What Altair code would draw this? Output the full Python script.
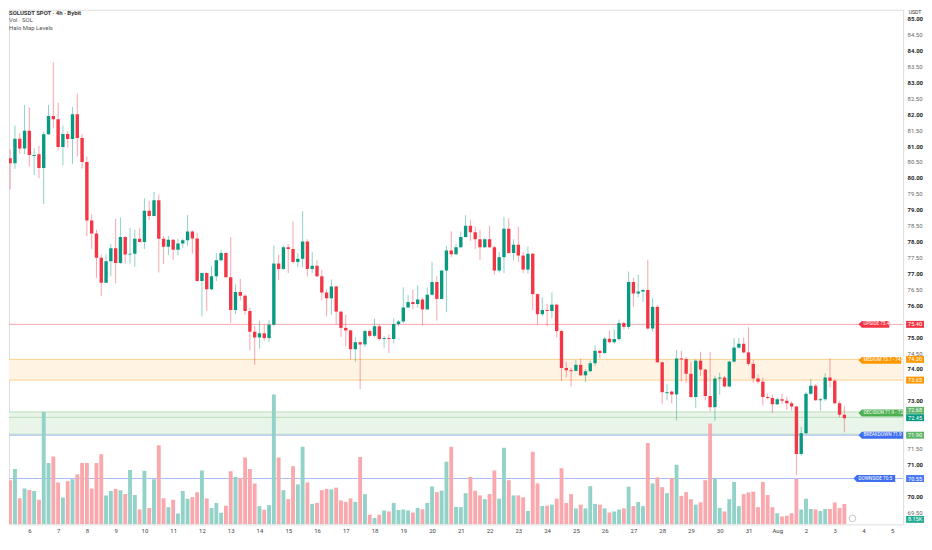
import json
import altair as alt
import pandas as pd

# ---------------- data ----------------
opens = [80.46, 80.62, 80.46, 81.23, 80.92, 81.48, 80.72, 80.74, 80.31, 81.37,
         81.94, 81.84, 80.97, 81.38, 81.22, 82.00, 81.25, 80.50, 78.66, 78.25,
         77.49, 76.71, 77.38, 77.79, 77.33, 78.14, 77.59, 77.62, 78.09, 77.99,
         78.97, 78.80, 79.30, 78.09, 77.84, 78.06, 77.74, 77.94, 78.04, 78.32,
         78.10, 76.76, 77.01, 76.50, 76.91, 77.41, 77.64, 76.88, 75.85, 76.42,
         76.30, 75.82, 75.17, 74.99, 75.12, 74.97, 75.39, 77.31, 77.14, 77.82,
         77.77, 77.36, 77.46, 78.00, 77.14, 77.24, 76.91, 76.40, 76.22, 76.59,
         75.80, 75.29, 75.21, 74.62, 74.84, 74.77, 75.19, 75.04, 75.34, 74.94,
         74.97, 74.94, 75.41, 75.49, 75.93, 76.10, 76.04, 76.18, 75.87, 76.33,
         76.73, 76.20, 77.09, 77.72, 77.60, 77.82, 78.14, 78.50, 78.29, 78.07,
         77.82, 78.07, 77.82, 77.09, 77.51, 78.40, 77.64, 77.90, 77.56, 77.12,
         77.62, 76.35, 75.72, 75.85, 75.82, 76.02, 75.19, 74.03, 73.96, 73.94,
         74.13, 73.80, 73.93, 74.18, 74.57, 74.50, 74.95, 74.84, 74.94, 75.44,
         75.32, 76.73, 76.37, 76.43, 76.48, 75.27, 75.95, 74.21, 73.27, 73.29,
         73.20, 74.33, 74.31, 73.85, 73.12, 74.26, 73.98, 73.15, 72.80, 73.70,
         73.73, 73.45, 74.23, 74.67, 74.79, 74.52, 74.16, 73.70, 73.60, 73.12,
         73.09, 72.89, 73.05, 73.00, 72.92, 72.82, 71.33, 71.98, 73.22, 73.47,
         73.02, 73.05, 73.73, 73.63, 72.92, 72.56]
highs = [80.70, 80.90, 81.64, 81.40, 82.29, 82.21, 80.93, 81.00, 81.45, 82.29,
         83.63, 82.36, 81.64, 81.47, 82.23, 82.65, 81.37, 80.67, 78.86, 78.37,
         77.60, 77.60, 77.92, 78.71, 78.76, 78.17, 78.43, 78.37, 78.42, 79.36,
         79.28, 79.56, 79.48, 78.17, 78.17, 78.07, 78.09, 78.10, 78.83, 78.35,
         78.27, 77.03, 77.03, 77.23, 77.64, 77.74, 77.66, 78.14, 76.66, 76.83,
         76.35, 75.92, 75.34, 75.51, 75.39, 75.54, 77.87, 77.59, 77.87, 77.92,
         78.63, 77.64, 78.95, 78.07, 77.67, 77.41, 77.11, 76.50, 76.81, 76.61,
         75.82, 75.70, 75.24, 74.99, 74.86, 75.24, 75.24, 75.58, 75.41, 75.04,
         75.09, 75.59, 75.54, 76.56, 76.32, 76.48, 76.63, 76.25, 76.56, 77.36,
         76.91, 77.11, 77.87, 78.32, 77.92, 78.32, 78.83, 78.68, 78.47, 78.37,
         78.10, 78.50, 77.87, 77.67, 78.78, 78.73, 78.07, 78.47, 77.67, 77.85,
         77.65, 76.37, 76.25, 76.05, 76.40, 76.05, 75.24, 74.23, 74.04, 74.28,
         74.33, 74.00, 74.26, 74.74, 74.61, 75.01, 75.21, 75.24, 75.55, 75.48,
         77.06, 76.86, 76.96, 76.52, 77.43, 76.22, 76.00, 74.23, 73.53, 73.32,
         74.59, 74.57, 74.38, 74.23, 74.30, 74.54, 74.00, 74.54, 73.78, 73.88,
         73.78, 74.26, 74.97, 74.97, 74.99, 75.31, 74.28, 73.83, 73.73, 73.22,
         73.19, 73.09, 73.22, 73.12, 72.99, 72.85, 72.18, 73.27, 73.68, 73.52,
         73.09, 73.86, 74.33, 73.68, 72.99, 72.82]
lows = [80.30, 79.64, 80.28, 80.75, 80.75, 80.36, 80.09, 79.99, 79.18, 81.35,
        81.56, 80.87, 80.39, 80.95, 80.44, 80.67, 80.29, 78.17, 77.77, 76.86,
        76.28, 76.70, 76.91, 76.69, 77.30, 77.31, 77.31, 77.21, 77.97, 77.77,
        78.68, 78.79, 77.03, 77.29, 77.57, 77.43, 77.57, 77.80, 77.87, 77.62,
        76.74, 75.65, 75.83, 76.48, 76.76, 77.38, 76.86, 75.44, 75.72, 76.15,
        75.70, 74.59, 74.13, 74.64, 74.89, 74.84, 75.34, 76.79, 77.11, 77.01,
        77.31, 77.19, 77.19, 76.91, 77.01, 76.89, 76.15, 75.65, 75.70, 75.39,
        75.01, 74.71, 74.30, 74.23, 73.37, 74.69, 75.00, 74.99, 74.89, 74.67,
        74.50, 74.81, 75.34, 75.44, 75.92, 75.88, 75.92, 75.36, 75.86, 76.30,
        75.52, 76.18, 75.78, 77.51, 77.59, 77.80, 78.12, 78.02, 77.77, 77.41,
        77.80, 77.80, 76.96, 77.03, 77.01, 77.62, 77.41, 77.36, 77.01, 77.00,
        75.85, 75.39, 75.65, 75.34, 75.60, 74.99, 73.63, 73.73, 73.45, 73.93,
        73.78, 73.58, 73.90, 74.10, 74.33, 74.48, 74.81, 74.79, 74.89, 75.24,
        75.24, 75.95, 76.25, 76.10, 75.24, 75.17, 74.18, 72.89, 73.02, 72.92,
        72.38, 73.60, 73.56, 73.09, 72.77, 73.78, 73.02, 72.67, 72.38, 73.19,
        73.42, 73.42, 74.20, 74.64, 74.49, 74.10, 73.56, 73.53, 72.85, 73.05,
        72.62, 72.87, 72.89, 72.72, 72.69, 70.67, 71.27, 71.95, 73.19, 73.00,
        72.69, 72.99, 73.42, 72.89, 72.48, 72.01]
closes = [80.60, 80.46, 81.23, 80.92, 81.48, 80.72, 80.74, 80.31, 81.37, 81.94,
          81.84, 80.97, 81.38, 81.22, 82.00, 81.25, 80.50, 78.66, 78.25, 77.49,
          76.71, 77.38, 77.79, 77.33, 78.14, 77.59, 77.62, 78.09, 77.99, 78.97,
          78.80, 79.30, 78.09, 77.84, 78.06, 77.74, 77.94, 78.04, 78.32, 78.10,
          76.76, 77.01, 76.50, 76.91, 77.41, 77.64, 76.88, 75.85, 76.42, 76.30,
          75.82, 75.17, 74.99, 75.12, 74.97, 75.39, 77.31, 77.14, 77.82, 77.77,
          77.36, 77.46, 78.00, 77.14, 77.24, 76.91, 76.40, 76.22, 76.59, 75.80,
          75.29, 75.21, 74.62, 74.84, 74.77, 75.19, 75.04, 75.34, 74.94, 74.97,
          74.94, 75.41, 75.49, 75.93, 76.10, 76.04, 76.18, 75.87, 76.33, 76.73,
          76.20, 77.09, 77.72, 77.60, 77.82, 78.14, 78.50, 78.29, 78.07, 77.82,
          78.07, 77.82, 77.09, 77.51, 78.40, 77.64, 77.90, 77.56, 77.12, 77.62,
          76.35, 75.72, 75.85, 75.82, 76.02, 75.19, 74.03, 73.96, 73.94, 74.13,
          73.80, 73.93, 74.18, 74.57, 74.50, 74.95, 74.84, 74.94, 75.44, 75.32,
          76.73, 76.37, 76.43, 76.48, 75.27, 75.95, 74.21, 73.27, 73.29, 73.20,
          74.33, 74.31, 73.85, 73.12, 74.26, 73.98, 73.15, 72.80, 73.70, 73.73,
          73.45, 74.23, 74.67, 74.79, 74.52, 74.16, 73.70, 73.60, 73.12, 73.09,
          72.89, 73.05, 73.00, 72.92, 72.82, 71.33, 71.98, 73.22, 73.47, 73.02,
          73.05, 73.73, 73.63, 72.92, 72.56, 72.45]
volumes_k = [7.9, 17.7, 22.2, 10.5, 14.4, 13.8, 13.4, 9.9, 45.0, 24.6,
             27.2, 16.8, 10.8, 17.3, 18.1, 20.0, 24.6, 24.6, 14.4, 24.6,
             28.1, 11.6, 13.4, 14.2, 13.7, 12.2, 21.8, 11.8, 6.0, 21.5,
             6.6, 18.1, 31.7, 10.5, 6.9, 9.9, 4.3, 13.4, 10.3, 10.9,
             12.9, 21.6, 10.4, 6.6, 8.6, 4.6, 7.5, 21.3, 19.0, 18.6,
             26.8, 22.2, 16.4, 7.3, 5.9, 7.7, 52.1, 26.8, 13.7, 10.1,
             23.3, 16.0, 31.1, 16.8, 8.2, 8.6, 13.7, 14.2, 14.0, 14.7,
             9.6, 9.0, 10.4, 9.0, 27.0, 12.1, 3.8, 2.5, 3.8, 5.5,
             5.1, 8.6, 5.7, 6.0, 5.5, 4.7, 6.6, 6.1, 8.6, 15.2,
             12.9, 13.5, 25.1, 31.1, 7.0, 6.9, 12.5, 19.0, 13.5, 11.6,
             10.1, 12.1, 21.6, 10.3, 30.7, 17.7, 11.6, 11.6, 10.8, 5.3,
             29.1, 16.4, 7.4, 7.5, 7.9, 10.3, 22.5, 8.6, 12.1, 6.4,
             7.9, 6.4, 15.3, 8.2, 7.9, 6.4, 4.7, 5.1, 6.0, 6.4,
             15.1, 7.3, 9.0, 7.3, 32.6, 16.4, 18.8, 14.9, 12.5, 18.6,
             23.9, 11.4, 12.9, 10.1, 7.9, 8.8, 17.7, 40.4, 18.3, 6.6,
             5.1, 10.1, 17.0, 7.3, 12.1, 12.8, 13.1, 6.9, 17.0, 11.8,
             6.9, 4.4, 3.1, 3.4, 4.4, 18.3, 6.0, 10.3, 6.2, 6.0,
             5.3, 6.2, 6.2, 8.8, 6.6, 8.15]

first_hour = 100          # Jul 5 04:00, hours counted from Jul 1 00:00
bar_hours = 4

day_tick_hours = [120, 144, 168, 192, 216, 240, 264, 288, 312, 336, 360, 384, 408,
                  432, 456, 480, 504, 528, 552, 576, 600, 624, 648, 672, 696, 720,
                  744, 768, 792, 816, 840]
day_tick_labels = ["6", "7", "8", "9", "10", "11", "12", "13", "14", "15", "16",
                   "17", "18", "19", "20", "21", "22", "23", "24", "25", "26", "27",
                   "28", "29", "30", "31", "Aug", "2", "3", "4", "5"]
price_ticks = [69.5, 70.0, 70.5, 71.0, 71.5, 72.0, 72.5, 73.0, 73.5, 74.0, 74.5,
               75.0, 75.5, 76.0, 76.5, 77.0, 77.5, 78.0, 78.5, 79.0, 79.5, 80.0,
               80.5, 81.0, 81.5, 82.0, 82.5, 83.0, 83.5, 84.0, 84.5, 85.0]
hidden_price_ticks = [75.5, 73.5, 72.5, 72.0, 70.5]   # covered by the level tags

band_names = ["MEDIUM", "DECISION"]
band_lows = [73.65, 71.95]
band_highs = [74.30, 72.65]
band_mid_line = 72.48

line_names = ["UPSIDE", "BREAKDOWN", "DOWNSIDE"]
line_prices = [75.40, 71.92, 70.56]

tag_texts = ["UPSIDE 75.4", "MEDIUM 73.7 - 74.3", "DECISION 71.9 - 72.7",
             "BREAKDOWN 71.9", "DOWNSIDE 70.5"]
tag_prices = [75.40, 74.27, 72.62, 71.92, 70.56]

axis_tag_texts = ["75.40", "74.30", "73.65", "72.68", "72.45", "71.90", "70.55"]
axis_tag_prices = [75.40, 74.30, 73.65, 72.70, 72.47, 71.92, 70.56]

header_lines = ["SOLUSDT SPOT · 4h · Bybit", "Vol · SOL", "Halo Map Levels"]
last_volume_label = "8.15K"

# ---------------- styling ----------------
W, H = 900, 518
FONT = "Roboto"
UP, DOWN = "#089981", "#F23645"
VOL_UP, VOL_DOWN = "#92D2C8", "#F9A9AD"
RED_LINE, BLUE_LINE = "#F7A6AD", "#A9B9F6"
ORANGE_FILL, ORANGE_EDGE, ORANGE_TAG = "#FFF3E3", "#FFD08E", "#FF9800"
GREEN_FILL, GREEN_EDGE, GREEN_TAG = "#EAF5EA", "#B9DDBB", "#4CAF50"
BLUE_TAG = "#3F6FF0"

n = len(opens)
candles = pd.DataFrame({
    "t": [first_hour + bar_hours * i for i in range(n)],
    "o": opens, "h": highs, "l": lows, "c": closes, "v": volumes_k,
})

x_scale = alt.Scale(domain=[107.16, 844.9], nice=False, zero=False)
p_scale = alt.Scale(domain=[69.121, 85.28], nice=False, zero=False)
v_scale = alt.Scale(domain=[0, 206.3], nice=False)
is_up = "datum.c >= datum.o"

label_expr = f"{json.dumps(day_tick_labels)}[indexof({json.dumps(day_tick_hours)}, datum.value)]"
x_axis = alt.Axis(values=day_tick_hours, labelExpr=label_expr, labelFontSize=6,
                  labelColor="#444", labelPadding=3, ticks=False, domain=False,
                  grid=False, title=None, labelFont=FONT, labelOverlap=False,
                  labelFlush=False)
y_label_expr = (f"indexof({json.dumps(hidden_price_ticks)}, datum.value) >= 0 ? '' : "
                "format(datum.value, '.2f')")
y_axis = alt.Axis(orient="right", values=price_ticks, labelExpr=y_label_expr,
                  labelFontSize=6,
                  labelColor={"condition": {"test": "datum.value % 1 === 0", "value": "#222"}, "value": "#666"},
                  labelFontWeight={"condition": {"test": "datum.value % 1 === 0", "value": "bold"}, "value": "normal"},
                  labelPadding=4, ticks=False, domain=False, grid=False, title=None,
                  labelFont=FONT, labelOverlap=False, labelFlush=False)


def xt():
    return alt.X("t:Q", scale=x_scale, axis=x_axis)


layers = []

# bands
bands = pd.DataFrame({"name": band_names, "lo": band_lows, "hi": band_highs,
                      "fill": [ORANGE_FILL, GREEN_FILL]})
layers.append(alt.Chart(bands).mark_rect().encode(
    y=alt.Y("lo:Q", scale=p_scale, axis=y_axis), y2="hi:Q",
    color=alt.Color("fill:N", scale=None),
    x=alt.value(0), x2=alt.value(W)))

edges = pd.DataFrame({
    "p": [band_lows[0], band_highs[0], band_lows[1], band_highs[1], band_mid_line],
    "col": [ORANGE_EDGE, ORANGE_EDGE, GREEN_EDGE, GREEN_EDGE, GREEN_EDGE]})
layers.append(alt.Chart(edges).mark_rule(strokeWidth=1).encode(
    y=alt.Y("p:Q", scale=p_scale, axis=None), color=alt.Color("col:N", scale=None)))

lines = pd.DataFrame({"name": line_names, "p": line_prices,
                      "col": [RED_LINE, BLUE_LINE, BLUE_LINE]})
layers.append(alt.Chart(lines).mark_rule(strokeWidth=1).encode(
    y=alt.Y("p:Q", scale=p_scale, axis=None), color=alt.Color("col:N", scale=None)))

# volume
layers.append(alt.Chart(candles).mark_bar(size=3.9, clip=True).encode(
    x=xt(),
    y=alt.Y("v:Q", scale=v_scale, axis=None),
    color=alt.condition(is_up, alt.value(VOL_UP), alt.value(VOL_DOWN))))

# wicks
layers.append(alt.Chart(candles).mark_rule(strokeWidth=1, opacity=0.45, clip=True).encode(
    x=xt(),
    y=alt.Y("l:Q", scale=p_scale, axis=None), y2="h:Q",
    color=alt.condition(is_up, alt.value(UP), alt.value(DOWN))))

# bodies
layers.append(alt.Chart(candles).transform_calculate(
    b="abs(datum.c - datum.o) < 0.03 ? datum.o - 0.03 : datum.c"
).mark_bar(size=3.4, clip=True).encode(
    x=xt(),
    y=alt.Y("o:Q", scale=p_scale, axis=None), y2="b:Q",
    color=alt.condition(is_up, alt.value(UP), alt.value(DOWN))))

# level tags inside the plot
tag_colors = ["#F23645", ORANGE_TAG, GREEN_TAG, BLUE_TAG, BLUE_TAG]
tag_widths = [31, 43, 45, 45, 42]
tag_lefts = [855, 855, 855, 855, 850]
for txt, p, col, w, left in zip(tag_texts, tag_prices, tag_colors, tag_widths, tag_lefts):
    h = 7.0
    hy = h / w
    a = 2 * 3.5 / w
    path = f"M-1,0L{-1 + a:.4f},{-hy:.4f}L1,{-hy:.4f}L1,{hy:.4f}L{-1 + a:.4f},{hy:.4f}Z"
    d = pd.DataFrame({"p": [p], "txt": [txt]})
    layers.append(alt.Chart(d).mark_point(shape=path, size=w * w, filled=True,
                                          opacity=1, color=col, strokeWidth=0).encode(
        x=alt.value(left + w / 2), y=alt.Y("p:Q", scale=p_scale, axis=None)))
    layers.append(alt.Chart(d).mark_text(align="left", baseline="middle", fontSize=4.7,
                                         color="white", font=FONT).encode(
        x=alt.value(left + 5), y=alt.Y("p:Q", scale=p_scale, axis=None), text="txt:N"))

# price-axis tags
axis_tag_colors = ["#F23645", ORANGE_TAG, ORANGE_TAG, "#5DB56A", "#089981", "#5DB56A", "#4A78F2"]
bw, bh = 18.0, 7.0
box_path = f"M-1,{-bh / bw:.4f}L1,{-bh / bw:.4f}L1,{bh / bw:.4f}L-1,{bh / bw:.4f}Z"
AX = W + 12
atags = pd.DataFrame({"p": axis_tag_prices, "txt": axis_tag_texts, "col": axis_tag_colors})
layers.append(alt.Chart(atags).mark_point(shape=box_path, size=bw * bw, filled=True,
                                          opacity=1, strokeWidth=0).encode(
    x=alt.value(AX), y=alt.Y("p:Q", scale=p_scale, axis=None),
    color=alt.Color("col:N", scale=None)))
layers.append(alt.Chart(atags).mark_text(align="center", baseline="middle", fontSize=5.6,
                                         color="white", font=FONT).encode(
    x=alt.value(AX), y=alt.Y("p:Q", scale=p_scale, axis=None), text="txt:N"))

# volume value tag at the bottom of the price axis
vl = pd.DataFrame({"txt": [last_volume_label]})
layers.append(alt.Chart(vl).mark_point(shape=box_path, size=bw * bw, filled=True, opacity=1,
                                       color="#22AB94", strokeWidth=0).encode(
    x=alt.value(AX), y=alt.value(H - 5)))
layers.append(alt.Chart(vl).mark_text(align="center", baseline="middle", fontSize=5.6,
                                      color="white", font=FONT).encode(
    x=alt.value(AX), y=alt.value(H - 5), text="txt:N"))

# small circular icon near the last bar
layers.append(alt.Chart(vl).mark_point(shape="circle", size=45, filled=False,
                                       color="#9a9a9a", strokeWidth=0.8).encode(
    x=alt.value(849), y=alt.value(H - 6)))

# header text
header_colors = ["#333", "#555", "#555"]
for i, (txt, col) in enumerate(zip(header_lines, header_colors)):
    d = pd.DataFrame({"txt": [txt]})
    layers.append(alt.Chart(d).mark_text(align="left", baseline="middle", fontSize=6,
                                         color=col, font=FONT,
                                         fontWeight="bold" if i == 0 else "normal").encode(
        x=alt.value(0), y=alt.value(3.2 + 7.6 * i), text="txt:N"))

usdt = pd.DataFrame({"txt": ["USDT"]})
layers.append(alt.Chart(usdt).mark_text(align="center", baseline="top", fontSize=5.2,
                                        color="#333", font=FONT).encode(
    x=alt.value(AX), y=alt.value(0), text="txt:N"))

chart = alt.layer(*layers).resolve_scale(y="independent").properties(
    width=W, height=H, padding=0, background="white"
).configure_view(strokeWidth=0).configure(font=FONT)

chart.save("out.html", embed_options={"renderer": "svg", "actions": False})
